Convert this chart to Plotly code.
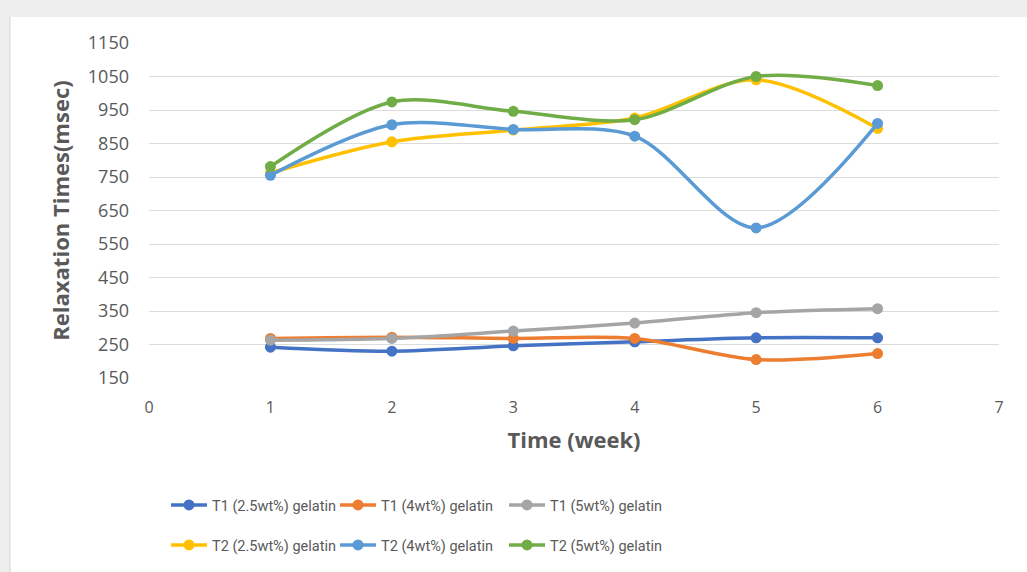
import plotly.graph_objects as go

weeks = [1, 2, 3, 4, 5, 6]
t1_25 = [242, 230, 246, 258, 270, 270]
t1_4 = [268, 272, 268, 268, 205, 223]
t1_5 = [263, 268, 290, 314, 345, 357]
t2_25 = [762, 855, 890, 926, 1040, 895]
t2_4 = [755, 906, 892, 872, 598, 910]
t2_5 = [781, 974, 946, 921, 1050, 1023]

series = [
    ("T1 (2.5wt%) gelatin", t1_25, "#4472C4", "legend"),
    ("T1 (4wt%) gelatin", t1_4, "#ED7D31", "legend"),
    ("T1 (5wt%) gelatin", t1_5, "#A5A5A5", "legend"),
    ("T2 (2.5wt%) gelatin", t2_25, "#FFC000", "legend2"),
    ("T2 (4wt%) gelatin", t2_4, "#5B9BD5", "legend2"),
    ("T2 (5wt%) gelatin", t2_5, "#70AD47", "legend2"),
]

yticks = [150, 250, 350, 450, 550, 650, 750, 850, 950, 1050, 1150]
xticks = [0, 1, 2, 3, 4, 5, 6, 7]

fig = go.Figure()
for name, vals, color, lg in series:
    fig.add_trace(go.Scatter(
        x=weeks, y=vals, name=name, mode="lines+markers",
        line=dict(color=color, width=3.5, shape="spline", smoothing=0.9),
        marker=dict(color=color, size=11),
        legend=lg,
    ))

txt = "#595959"
legend_common = dict(
    orientation="h", xanchor="left", yanchor="middle",
    font=dict(family="Roboto, sans-serif", size=14.5, color=txt),
    bgcolor="rgba(0,0,0,0)", entrywidth=118, entrywidthmode="pixels",
    tracegroupgap=0, itemwidth=36,
)

fig.update_layout(
    width=1027, height=572,
    margin=dict(l=149, r=28, t=43, b=193),
    paper_bgcolor="white", plot_bgcolor="white",
    showlegend=True,
    legend=dict(x=0.02, y=-0.375, **legend_common),
    legend2=dict(x=0.02, y=-0.494, **legend_common),
    xaxis=dict(
        range=[0, 7], tickvals=xticks, showgrid=False, zeroline=False,
        showline=False, ticks="", ticklabelstandoff=18,
        tickfont=dict(family="Open Sans, sans-serif", size=16, color=txt),
        title=dict(text="<b>Time (week)</b>", standoff=15,
                   font=dict(family="Open Sans, sans-serif", size=22, color=txt)),
    ),
    yaxis=dict(
        range=[150, 1150], tickvals=yticks, showgrid=True, gridcolor="#dcdcdc",
        gridwidth=1, zeroline=False, showline=False, ticks="",
        ticklabelstandoff=19,
        tickfont=dict(family="Open Sans, sans-serif", size=18, color=txt),
        title=dict(text="<b>Relaxation Times(msec)</b>", standoff=12,
                   font=dict(family="Open Sans, sans-serif", size=22, color=txt)),
    ),
    shapes=[
        dict(type="rect", xref="paper", yref="paper",
             x0=-1, x1=2, y0=(379 - 17) / 336, y1=2,
             fillcolor="#eeeeee", line=dict(width=0), layer="below"),
        dict(type="rect", xref="paper", yref="paper",
             x0=-1, x1=(10 - 149) / 850, y0=-1, y1=2,
             fillcolor="#eeeeee", line=dict(width=0), layer="below"),
        dict(type="line", xref="paper", yref="paper",
             x0=(10 - 149) / 850, x1=(10 - 149) / 850, y0=-1, y1=(379 - 17) / 336,
             line=dict(color="#d6d6d6", width=1)),
    ],
)

fig.write_html("out.html")
